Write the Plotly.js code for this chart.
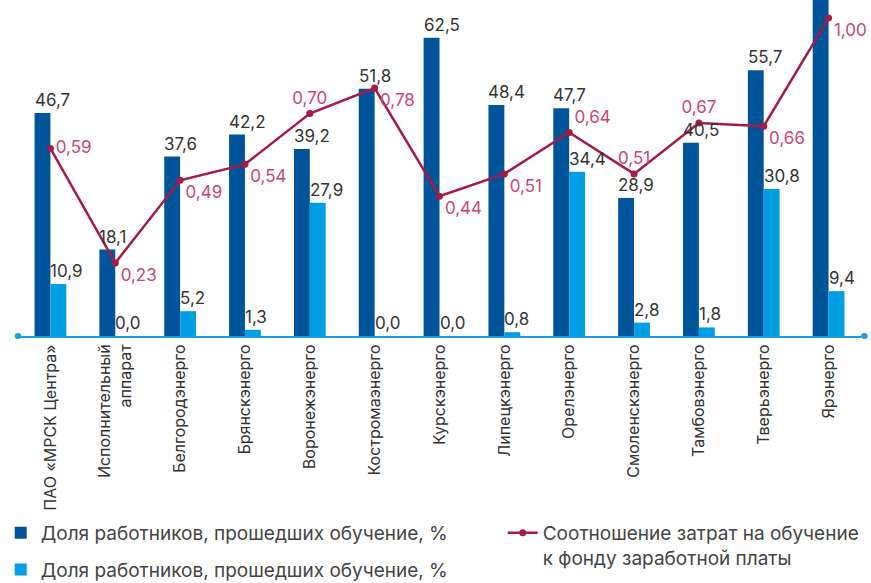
<!DOCTYPE html>
<html>
<head>
<meta charset="utf-8">
<script src="https://cdn.plot.ly/plotly-3.0.1.min.js"></script>
<style>html,body{margin:0;padding:0;background:#fff;}#chart{width:871px;height:583px;}</style>
</head>
<body>
<div id="chart"></div>
<script>
// ---- data ----
var categories = [
  "ПАО «МРСК Центра»",
  "Исполнительный<br>аппарат",
  "Белгородэнерго",
  "Брянскэнерго",
  "Воронежэнерго",
  "Костромаэнерго",
  "Курскэнерго",
  "Липецкэнерго",
  "Орелэнерго",
  "Смоленскэнерго",
  "Тамбовэнерго",
  "Тверьэнерго",
  "Ярэнерго"
];
var shareTrainedA = [46.7, 18.1, 37.6, 42.2, 39.2, 51.8, 62.5, 48.4, 47.7, 28.9, 40.5, 55.7, 74.0];
var shareTrainedB = [10.9, 0.0, 5.2, 1.3, 27.9, 0.0, 0.0, 0.8, 34.4, 2.8, 1.8, 30.8, 9.4];
var costRatio = [0.59, 0.23, 0.49, 0.54, 0.70, 0.78, 0.44, 0.51, 0.64, 0.51, 0.67, 0.66, 1.00];

var seriesNameBar = "Доля работников, прошедших обучение, %";
var seriesNameLine = "Соотношение затрат на обучение<br>к фонду заработной платы";

// ---- styles ----
var labelPos = ["middle right","bottom right","bottom right","bottom right","top center","bottom right",
                "bottom right","bottom right","top right","top center","top center","bottom right","bottom right"];
var fmt = function(v, d){ return v.toFixed(d).replace(".", ","); };

var yMax = 70.4, y2Max = 1.057;
var bargap = 0.51;
var bw = (1 - bargap) / 2;
var idx = categories.map(function(c,i){return i;});

var font = "Inter, 'Noto Sans', sans-serif";

var traces = [
  {
    type: "bar", x: idx, y: shareTrainedA, name: seriesNameBar, legend: "legend", legendgroup: "a",
    marker: {color: "#00559a"}, hoverinfo: "skip"
  },
  {
    type: "bar", x: idx, y: shareTrainedB, name: seriesNameBar, legend: "legend", legendgroup: "b",
    marker: {color: "#009fe3"}, hoverinfo: "skip"
  },
  {
    type: "scatter", mode: "lines+markers+text", x: idx, y: costRatio,
    yaxis: "y2", name: seriesNameLine, legend: "legend2",
    line: {color: "#a51b44", width: 2.5}, marker: {color: "#a51b44", size: 7},
    text: costRatio.map(function(v){return fmt(v,2);}), textposition: labelPos,
    textfont: {color: "#c9476f", size: 17, family: font}, cliponaxis: false, hoverinfo: "skip"
  }
];

var annotations = [];
shareTrainedA.forEach(function(v, i){
  if (v < yMax - 3) annotations.push({x: i - bw, y: v, xref: "x", yref: "y", text: fmt(v,1),
    showarrow: false, xanchor: "left", yanchor: "bottom", xshift: -2, yshift: 1,
    font: {size: 17, color: "#333333", family: font}});
});
shareTrainedB.forEach(function(v, i){
  annotations.push({x: i, y: v, xref: "x", yref: "y", text: fmt(v,1),
    showarrow: false, xanchor: "left", yanchor: "bottom", xshift: -2, yshift: 1,
    font: {size: 17, color: "#333333", family: font}});
});

var legendFont = {size: 19, color: "#444444", family: font};

var layout = {
  width: 871, height: 583,
  margin: {l: 17.5, r: 9.5, t: 0, b: 247},
  paper_bgcolor: "#ffffff", plot_bgcolor: "#ffffff",
  barmode: "group", bargap: bargap, bargroupgap: 0,
  showlegend: true,
  legend: {orientation: "v", xref: "paper", yref: "container", x: -0.0205, xanchor: "left", y: 0.1184, yanchor: "top",
    font: legendFont, traceorder: "grouped", tracegroupgap: 9, valign: "middle", bgcolor: "rgba(0,0,0,0)"},
  legend2: {orientation: "v", xref: "paper", yref: "container", x: 0.575, xanchor: "left", y: 0.1184, yanchor: "top",
    font: legendFont, valign: "top", bgcolor: "rgba(0,0,0,0)"},
  xaxis: {
    type: "linear", tickmode: "array", tickvals: idx, ticktext: categories,
    range: [-0.5, 12.5], tickangle: -90, showline: true, linecolor: "#1aa0e0", linewidth: 2,
    ticks: "", showgrid: false, zeroline: false, automargin: false,
    tickfont: {size: 16, color: "#333333", family: font}
  },
  yaxis: {range: [0, yMax], showgrid: false, zeroline: false, showticklabels: false, ticks: ""},
  yaxis2: {range: [0, y2Max], overlaying: "y", side: "right", showgrid: false, zeroline: false, showticklabels: false, ticks: ""},
  annotations: annotations,
  shapes: [
    {type: "circle", xref: "paper", yref: "paper", x0: -0.004, x1: 0.004, y0: -0.009, y1: 0.009, fillcolor: "#1aa0e0", line: {width: 0}},
    {type: "circle", xref: "paper", yref: "paper", x0: 1.0, x1: 1.008, y0: -0.009, y1: 0.009, fillcolor: "#1aa0e0", line: {width: 0}}
  ]
};

Plotly.newPlot("chart", traces, layout, {staticPlot: true, displayModeBar: false});
</script>
</body>
</html>
